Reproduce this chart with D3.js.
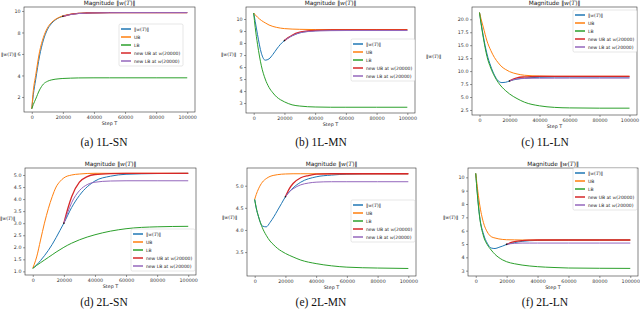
<!DOCTYPE html>
<html><head><meta charset="utf-8">
<script src="https://cdn.jsdelivr.net/npm/d3@7"></script>
<style>body{margin:0;background:#fff}svg{display:block}</style>
</head><body><svg id="c" width="640" height="313"></svg>
<script>
// ---------------- data ----------------
const steps    = [0,1000,2500,5000,7500,10000,12500,15000,17500,20000,25000,30000,40000,50000,60000,80000,100000];
const newSteps = [20000,22500,25000,30000,35000,40000,50000,60000,80000,100000];
const xTicks = [0,20000,40000,60000,80000,100000];
const seriesNames = ["‖w(T)‖","UB","LB","new UB at w(20000)","new LB at w(20000)"];
const captions = ["(a) 1L-SN","(b) 1L-MN","(c) 1L-LN","(d) 2L-SN","(e) 2L-MN","(f) 2L-LN"];

// (a) 1L-SN
const normA  = [0.9,2.2,3.6,5.8,7.3,8.25,8.8,9.15,9.37,9.5,9.68,9.77,9.83,9.85,9.85,9.85,9.85];
const ubA    = [0.9,2.6,4.0,6.2,7.55,8.4,8.9,9.2,9.4,9.55,9.7,9.78,9.83,9.85,9.85,9.85,9.85];
const lbA    = [0.9,1.3,1.8,2.65,3.2,3.45,3.58,3.65,3.69,3.72,3.75,3.77,3.78,3.78,3.78,3.78,3.78];
const newUbA = [9.5,9.6,9.68,9.77,9.81,9.83,9.85,9.85,9.85,9.85];
const newLbA = [9.5,9.6,9.67,9.76,9.8,9.82,9.84,9.85,9.85,9.85];
const yTicksA = [2,4,6,8,10];

// (b) 1L-MN
const normB  = [10.5,9.8,8.7,7.15,6.57,6.68,7.05,7.5,7.9,8.2,8.6,8.85,9.02,9.07,9.08,9.08,9.08];
const ubB    = [10.5,10.35,10.15,9.88,9.68,9.5,9.38,9.3,9.24,9.2,9.16,9.14,9.12,9.12,9.12,9.12,9.12];
const lbB    = [10.5,9.3,7.9,6.1,5.0,4.3,3.85,3.5,3.27,3.1,2.85,2.75,2.67,2.65,2.65,2.65,2.65];
const newUbB = [8.2,8.45,8.65,8.9,9.0,9.06,9.1,9.1,9.1,9.1];
const newLbB = [8.2,8.42,8.6,8.85,8.95,9.0,9.03,9.04,9.04,9.04];
const yTicksB = [3,4,5,6,7,8,9,10];

// (c) 1L-LN
const normC  = [21.3,19.4,16.8,13.3,10.95,9.2,8.1,7.78,7.85,8.1,8.45,8.65,8.8,8.85,8.85,8.85,8.85];
const ubC    = [21.3,20.1,18.5,15.8,14.0,12.6,11.6,10.8,10.3,9.9,9.45,9.2,9.05,9.0,9.0,9.0,9.0];
const lbC    = [21.3,19.2,16.5,12.8,10.6,9.0,7.8,6.9,6.2,5.6,4.7,4.0,3.3,3.0,2.9,2.85,2.85];
const newUbC = [8.1,8.45,8.7,8.88,8.95,8.98,9.0,9.0,9.0,9.0];
const newLbC = [8.1,8.35,8.48,8.58,8.62,8.63,8.64,8.65,8.65,8.65];
const yTicksC = [2.5,5.0,7.5,10.0,12.5,15.0,17.5,20.0];

// (d) 2L-SN
const normD  = [1.13,1.18,1.27,1.45,1.65,1.87,2.12,2.4,2.7,3.0,3.65,4.15,4.75,4.95,5.03,5.06,5.07];
const ubD    = [1.13,1.3,1.6,2.3,3.0,3.6,4.1,4.5,4.73,4.88,5.0,5.04,5.07,5.07,5.07,5.07,5.07];
const lbD    = [1.13,1.17,1.25,1.36,1.47,1.58,1.69,1.8,1.9,2.0,2.17,2.31,2.52,2.67,2.77,2.85,2.87];
const newUbD = [3.0,3.6,4.1,4.7,4.93,5.02,5.06,5.07,5.07,5.07];
const newLbD = [3.0,3.45,3.85,4.35,4.6,4.7,4.75,4.76,4.76,4.76];
const yTicksD = [1.0,1.5,2.0,2.5,3.0,3.5,4.0,4.5,5.0];

// (e) 2L-MN
const normE  = [4.69,4.5,4.3,4.09,4.07,4.17,4.3,4.45,4.6,4.75,4.95,5.08,5.2,5.24,5.26,5.27,5.27];
const ubE    = [4.69,4.8,4.93,5.08,5.16,5.21,5.235,5.25,5.26,5.265,5.27,5.27,5.27,5.27,5.27,5.27,5.27];
const lbE    = [4.69,4.5,4.3,4.05,3.88,3.75,3.66,3.58,3.52,3.47,3.39,3.32,3.24,3.19,3.16,3.14,3.13];
const newUbE = [4.75,4.93,5.05,5.18,5.23,5.26,5.27,5.27,5.27,5.27];
const newLbE = [4.75,4.86,4.93,5.02,5.06,5.08,5.09,5.09,5.09,5.09];
const yTicksE = [3.5,4.0,4.5,5.0];

// (f) 2L-LN
const normF  = [10.3,8.85,7.1,5.75,5.05,4.7,4.66,4.75,4.85,4.97,5.1,5.2,5.27,5.29,5.3,5.3,5.3];
const ubF    = [10.3,9.3,8.0,6.6,5.9,5.55,5.45,5.38,5.34,5.32,5.31,5.3,5.3,5.3,5.3,5.3,5.3];
const lbF    = [10.3,8.8,7.05,5.6,4.95,4.55,4.22,3.98,3.8,3.67,3.52,3.42,3.3,3.24,3.2,3.18,3.17];
const newUbF = [4.97,5.1,5.18,5.26,5.29,5.3,5.3,5.3,5.3,5.3];
const newLbF = [4.97,5.02,5.05,5.07,5.07,5.07,5.07,5.07,5.07,5.07];
const yTicksF = [3,4,5,6,7,8,9,10];

// ---------------- layout ----------------
const colors = ["#1f77b4","#ff7f0e","#2ca02c","#d62728","#9467bd"];
const panels = [
  {box:[24,7,195,112],  ydom:[0.6,10.37], ticks:yTicksA, fmt:"d",   s:[normA,ubA,lbA,newUbA,newLbA], leg:[119,24], cap:[104,146], yl:[1,56]},
  {box:[246,7,415,113], ydom:[2.17,11.0], ticks:yTicksB, fmt:"d",   s:[normB,ubB,lbB,newUbB,newLbB], leg:[351,39], cap:[321,146], yl:[221,56]},
  {box:[472,7,637,115], ydom:[1.53,22.37],ticks:yTicksC, fmt:".1f", s:[normC,ubC,lbC,newUbC,newLbC], leg:[573,10], cap:[545,146], yl:[426,58]},
  {box:[25,168,196,275],ydom:[0.85,5.29], ticks:yTicksD, fmt:".1f", s:[normD,ubD,lbD,newUbD,newLbD], leg:[131,229],cap:[104,306], yl:[0,220]},
  {box:[247,168,416,276],ydom:[2.96,5.40],ticks:yTicksE, fmt:".1f", s:[normE,ubE,lbE,newUbE,newLbE], leg:[351,200],cap:[321,306], yl:[222,219]},
  {box:[468,168,638,276],ydom:[2.6,10.7], ticks:yTicksF, fmt:"d",   s:[normF,ubF,lbF,newUbF,newLbF], leg:[573,168],cap:[545,306], yl:[443,219]}
];

const svg = d3.select("#c");
const FONT = "DejaVu Sans, sans-serif";

function richText(sel, parts){
  parts.forEach(p=>{
    const t = sel.append("tspan").text(p[0]);
    if(p[1]) t.attr("font-style","italic").attr("font-family","DejaVu Serif, serif");
  });
}
const nameParts = [
  [["‖",0],["w",1],["(",0],["T",1],[")‖",0]],
  [["UB",0]],
  [["LB",0]],
  [["new UB at ",0],["w",1],["(20000)",0]],
  [["new LB at ",0],["w",1],["(20000)",0]]
];

panels.forEach((p,i)=>{
  const [x0,y0,x1,y1] = p.box;
  const x = d3.scaleLinear().domain([-5000,105000]).range([x0,x1]);
  const y = d3.scaleLinear().domain(p.ydom).range([y1,y0]);
  const g = svg.append("g");
  const cid = "clip"+i;
  g.append("clipPath").attr("id",cid).append("rect").attr("x",x0).attr("y",y0).attr("width",x1-x0).attr("height",y1-y0);

  // axes
  const xa = g.append("g").attr("transform",`translate(0,${y1})`)
    .call(d3.axisBottom(x).tickValues(xTicks).tickFormat(d3.format("d")).tickSize(2).tickPadding(1.5));
  const ya = g.append("g").attr("transform",`translate(${x0},0)`)
    .call(d3.axisLeft(y).tickValues(p.ticks).tickFormat(d3.format(p.fmt)).tickSize(2).tickPadding(1.5));
  [xa,ya].forEach(a=>{
    a.select(".domain").remove();
    a.selectAll("text").attr("font-family",FONT).attr("font-size",4.8).attr("fill","#333");
    a.selectAll("line").attr("stroke","#333").attr("stroke-width",0.5);
  });

  // lines
  const lg = g.append("g").attr("clip-path",`url(#${cid})`);
  p.s.forEach((vals,k)=>{
    const xs = k<3 ? steps : newSteps;
    const line = d3.line().x((d,j)=>x(xs[j])).y(d=>y(d)).curve(d3.curveMonotoneX);
    lg.append("path").datum(vals).attr("d",line).attr("fill","none")
      .attr("stroke",colors[k]).attr("stroke-width", k===3?1.3:1.0);
  });
  // junction marker
  lg.append("circle").attr("cx",x(newSteps[0])).attr("cy",y(p.s[3][0])).attr("r",0.8).attr("fill","#111");

  // frame
  g.append("rect").attr("x",x0).attr("y",y0).attr("width",x1-x0).attr("height",y1-y0)
    .attr("fill","none").attr("stroke","#333").attr("stroke-width",0.6);

  // title
  const tt = g.append("text").attr("x",(x0+x1)/2).attr("y",y0-2).attr("text-anchor","middle")
    .attr("font-family",FONT).attr("font-size",5.8).attr("fill","#111");
  richText(tt,[["Magnitude ‖",0],["w",1],["(",0],["T",1],[")‖",0]]);

  // x label
  const xl = g.append("text").attr("x",(x0+x1)/2).attr("y",y1+12.5).attr("text-anchor","middle")
    .attr("font-family",FONT).attr("font-size",4.8).attr("fill","#222");
  richText(xl,[["Step T",0]]);

  // y label
  const yl = g.append("text").attr("x",p.yl[0]).attr("y",p.yl[1]).attr("text-anchor","start")
    .attr("font-family",FONT).attr("font-size",4.6).attr("fill","#222");
  richText(yl,nameParts[0]);

  // legend
  const [lx,ly] = p.leg;
  const lw = 64, lh = 42;
  const L = g.append("g");
  L.append("rect").attr("x",lx).attr("y",ly).attr("width",lw).attr("height",lh).attr("rx",1.5)
    .attr("fill","#fff").attr("fill-opacity",0.85).attr("stroke","#ccc").attr("stroke-width",0.5);
  seriesNames.forEach((n,k)=>{
    const yy = ly+5+k*8;
    L.append("line").attr("x1",lx+2).attr("x2",lx+12).attr("y1",yy).attr("y2",yy)
      .attr("stroke",colors[k]).attr("stroke-width",1.5);
    const t = L.append("text").attr("x",lx+15).attr("y",yy+1.6).attr("font-family",FONT)
      .attr("font-size",4.5).attr("fill","#222");
    richText(t,nameParts[k]);
  });

  // caption
  svg.append("text").attr("x",p.cap[0]).attr("y",p.cap[1]).attr("text-anchor","middle")
    .attr("font-family","Liberation Serif, Times New Roman, serif").attr("font-size",11.5).attr("fill","#111")
    .text(captions[i]);
});
</script></body></html>
